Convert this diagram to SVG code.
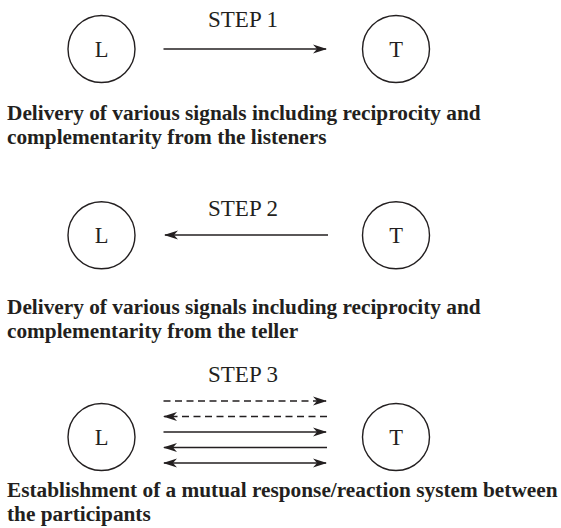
<svg xmlns="http://www.w3.org/2000/svg" width="561" height="528" viewBox="0 0 561 528">
<style>
.node circle{fill:none;stroke:#231f20;stroke-width:1.4}
.node text{font-family:"Liberation Serif","Times New Roman",serif;font-size:22.5px;fill:#231f20;text-anchor:middle}
.step{font-family:"Liberation Serif","Times New Roman",serif;font-size:23px;fill:#231f20}
.cap{font-family:"Liberation Serif","Times New Roman",serif;font-size:21.3px;font-weight:bold;fill:#231f20}
.conn line{stroke:#231f20;stroke-width:1.4;fill:none}
.dash{stroke-dasharray:7 4.5}
</style>
<defs>
<marker id="ah" markerUnits="userSpaceOnUse" markerWidth="16" markerHeight="10" viewBox="0 -5 16 10" refX="13" refY="0" orient="auto-start-reverse">
<path d="M0,-4.5 L14,0 L0,4.5 L4,0 Z" fill="#231f20"/>
</marker>
</defs>
<rect width="561" height="528" fill="#fff"/>

<!-- STEP 1 -->
<g id="step1-L" class="node"><circle cx="101.5" cy="49" r="33.5"/><text x="101.5" y="56.5">L</text></g>
<g id="step1-T" class="node"><circle cx="396" cy="49" r="33.5"/><text x="396" y="56.5">T</text></g>
<text class="step" x="208" y="27">STEP 1</text>
<text class="cap" x="7" y="119.5">Delivery of various signals including reciprocity and</text>
<text class="cap" x="7" y="144">complementarity from the listeners</text>

<!-- STEP 2 -->
<g id="step2-L" class="node"><circle cx="101.5" cy="235.2" r="33.5"/><text x="101.5" y="242.7">L</text></g>
<g id="step2-T" class="node"><circle cx="396" cy="235.2" r="33.5"/><text x="396" y="242.7">T</text></g>
<text class="step" x="208" y="216">STEP 2</text>
<text class="cap" x="7" y="314">Delivery of various signals including reciprocity and</text>
<text class="cap" x="7" y="338.3">complementarity from the teller</text>

<!-- STEP 3 -->
<g id="step3-L" class="node"><circle cx="101.5" cy="437" r="33.5"/><text x="101.5" y="444.5">L</text></g>
<g id="step3-T" class="node"><circle cx="396" cy="437" r="33.5"/><text x="396" y="444.5">T</text></g>
<text class="step" x="208" y="382">STEP 3</text>
<text class="cap" x="7" y="497">Establishment of a mutual response/reaction system between</text>
<text class="cap" x="7" y="521">the participants</text>

<g id="connectors" class="conn">
<line x1="163.5" y1="49" x2="326" y2="49" marker-end="url(#ah)"/>
<line x1="328" y1="235" x2="165" y2="235" marker-end="url(#ah)"/>
<line class="dash" x1="163.5" y1="401" x2="326" y2="401" marker-end="url(#ah)"/>
<line class="dash" x1="327" y1="416.5" x2="164" y2="416.5" marker-end="url(#ah)"/>
<line x1="163.5" y1="432" x2="326" y2="432" marker-end="url(#ah)"/>
<line x1="327" y1="447.5" x2="164" y2="447.5" marker-end="url(#ah)"/>
<line x1="164" y1="463" x2="326" y2="463" marker-start="url(#ah)" marker-end="url(#ah)"/>
</g>
</svg>
